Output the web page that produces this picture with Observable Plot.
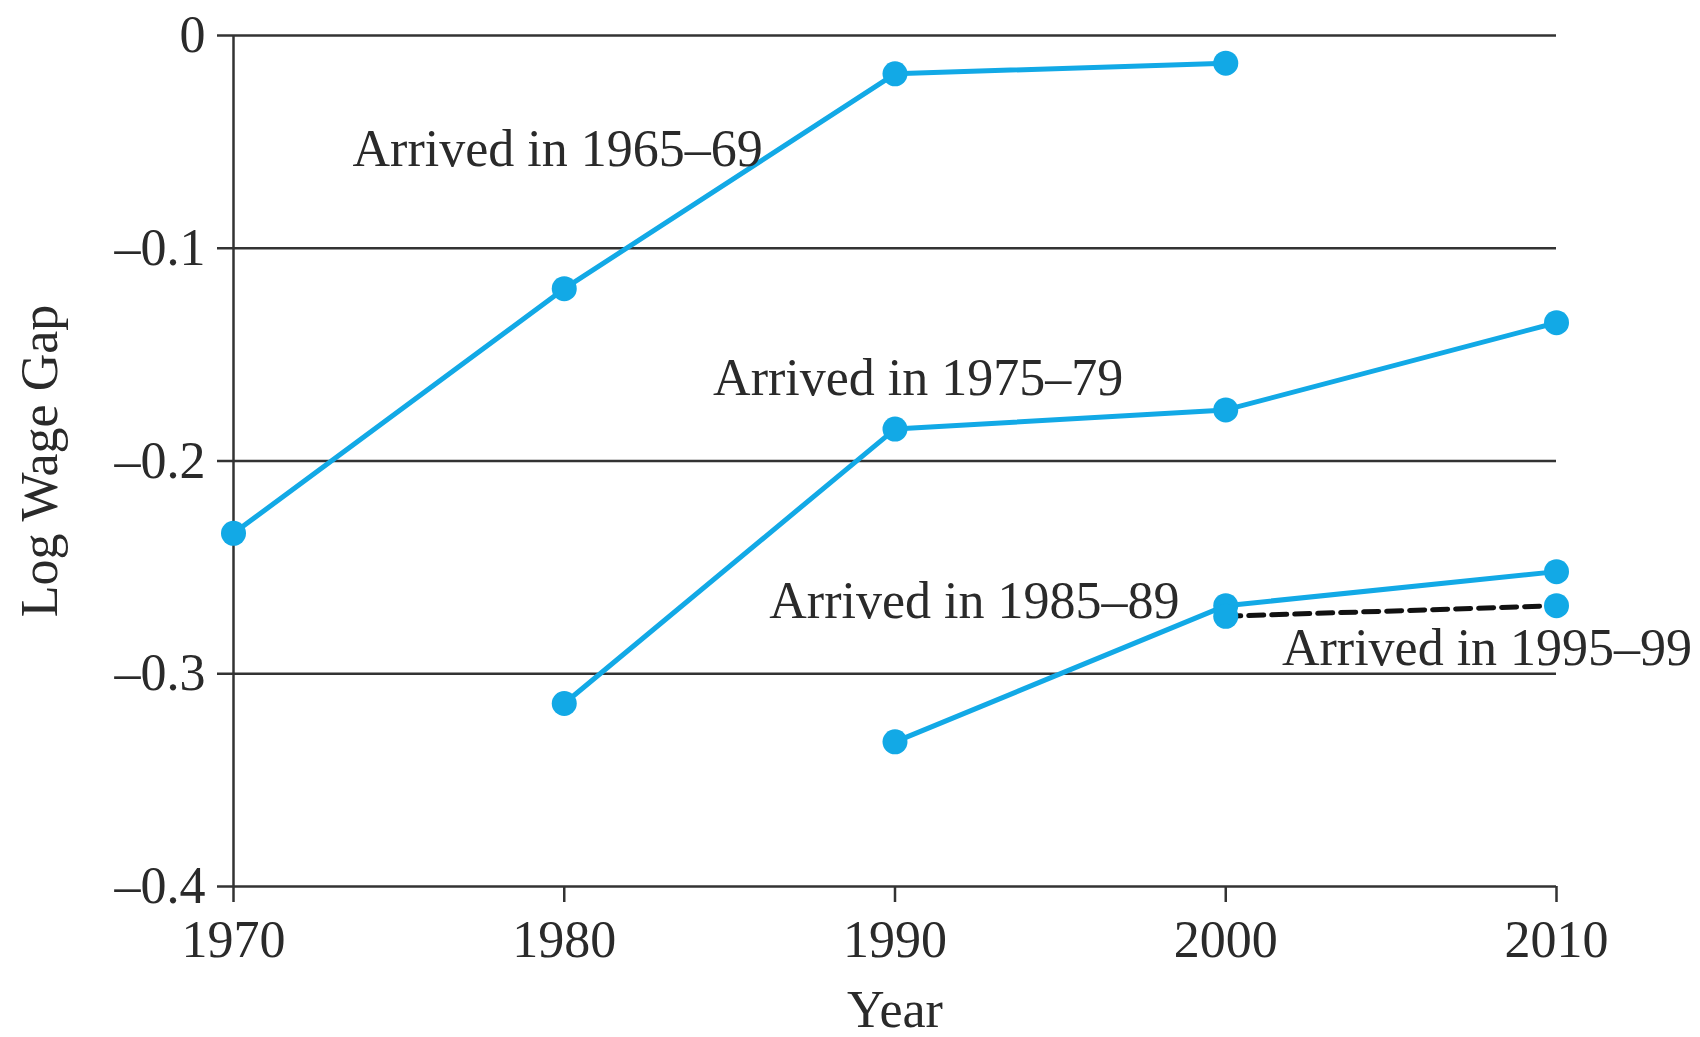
<!DOCTYPE html>
<html><head><meta charset="utf-8">
<script src="https://cdn.jsdelivr.net/npm/d3@7"></script>
<script src="https://cdn.jsdelivr.net/npm/@observablehq/plot@0.6"></script>
<style>html,body{margin:0;padding:0;background:#fff;overflow:hidden}</style>
</head><body><div id="chart"></div>
<script>
// Data
const xTicks = [1970, 1980, 1990, 2000, 2010];
const yTicks = [0, -0.1, -0.2, -0.3, -0.4];

const years6569 = [1970, 1980, 1990, 2000];
const gap6569   = [-0.234, -0.119, -0.018, -0.013];
const years7579 = [1980, 1990, 2000, 2010];
const gap7579   = [-0.314, -0.185, -0.176, -0.135];
const years8589 = [1990, 2000, 2010];
const gap8589   = [-0.332, -0.268, -0.252];
const years9599 = [2000, 2010];
const gap9599   = [-0.273, -0.268];

const labelTexts = ["Arrived in 1965–69", "Arrived in 1975–79", "Arrived in 1985–89", "Arrived in 1995–99"];
const labelYears = [1979.8, 1990.7, 1992.4, 2007.9];
const labelGaps  = [-0.0536, -0.161, -0.266, -0.288];

const toRows = (ys, vs) => ys.map((y, i) => ({year: y, gap: vs[i]}));
const s1 = toRows(years6569, gap6569);
const s2 = toRows(years7579, gap7579);
const s3 = toRows(years8589, gap8589);
const s4 = toRows(years9599, gap9599);
const labels = labelTexts.map((t, i) => ({text: t, year: labelYears[i], gap: labelGaps[i]}));

const blue = "#12a9e6";
const ink = "#2a2a2a";
const fmtY = d => d === 0 ? "0" : "–" + Math.abs(d).toFixed(1);

const chart = Plot.plot({
  width: 1700, height: 1037,
  marginLeft: 233, marginRight: 144, marginTop: 35, marginBottom: 151,
  style: {fontFamily: "'Liberation Serif', 'Times New Roman', serif", fontSize: "52px", color: ink, background: "#fff"},
  x: {domain: [1970, 2010]},
  y: {domain: [-0.4, 0]},
  marks: [
    Plot.ruleY(yTicks, {stroke: "#333", strokeWidth: 2.5}),
    Plot.ruleX([1970], {stroke: "#333", strokeWidth: 2.5}),
    Plot.axisX({ticks: xTicks, tickFormat: d => String(d), tickSize: 16, tickPadding: 18, fontSize: 52,
      stroke: "#333", strokeWidth: 2.5, label: "Year", labelAnchor: "center", labelArrow: "none", labelOffset: 140}),
    Plot.axisY({ticks: yTicks, tickFormat: fmtY, tickSize: 16, tickPadding: 12, fontSize: 52,
      stroke: "#333", strokeWidth: 2.5, label: "Log Wage Gap", labelAnchor: "center", labelArrow: "none", labelOffset: 213}),
    Plot.line(s4, {x: "year", y: "gap", stroke: "#111", strokeWidth: 5, strokeDasharray: "15,8"}),
    Plot.line(s1, {x: "year", y: "gap", stroke: blue, strokeWidth: 5}),
    Plot.line(s2, {x: "year", y: "gap", stroke: blue, strokeWidth: 5}),
    Plot.line(s3, {x: "year", y: "gap", stroke: blue, strokeWidth: 5}),
    Plot.dot([...s1, ...s2, ...s3, ...s4], {x: "year", y: "gap", r: 12.5, fill: blue, stroke: "none"}),
    Plot.text(labels, {x: "year", y: "gap", text: "text", fontSize: 52, fill: ink, textAnchor: "middle"})
  ]
});
document.getElementById("chart").appendChild(chart);
</script>
</body></html>
